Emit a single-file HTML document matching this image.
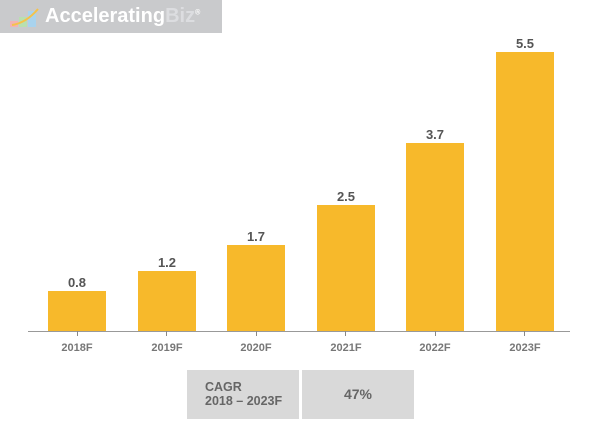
<!DOCTYPE html>
<html><head><style>
body{margin:0;width:600px;height:430px;background:#fff;position:relative;overflow:hidden;font-family:"Liberation Sans",Arial,sans-serif}
.bar{position:absolute;width:58px;background:#f7b92b}
.v{position:absolute;width:80px;text-align:center;font-weight:bold;font-size:13px;color:#555}
.x{position:absolute;width:80px;text-align:center;font-weight:bold;font-size:11px;color:#777;top:342px}
.tick{position:absolute;top:331px;width:1px;height:5px;background:#888}
.box{position:absolute;top:370px;height:49px;width:112px;background:#d9d9d9;color:#666;font-weight:bold}
</style></head><body>
<div style="position:absolute;left:0;top:0;width:222px;height:33px;background:#c9cacc"></div>
<svg style="position:absolute;left:8px;top:5px" width="36" height="24">
<rect x="2" y="16" width="8" height="6" fill="#f2b3b3"/><rect x="11" y="12" width="8" height="10" fill="#b8e0b0"/><rect x="20" y="6" width="8" height="16" fill="#a9d3ee"/>
<path d="M4 20 Q18 18 30 4" stroke="#f5c24a" stroke-width="2" fill="none"/></svg>
<div style="position:absolute;left:45px;top:5px;font-size:20px;font-weight:bold;color:#fff;white-space:nowrap">Accelerating<span style="color:#dcdde0">Biz</span><sup style="font-size:7px">®</sup></div>
<div style="position:absolute;left:28px;top:331px;width:542px;height:1px;background:#999"></div>

<div class="bar" style="left:48px;top:291px;height:40px"></div>
<div class="bar" style="left:138px;top:271px;height:60px"></div>
<div class="bar" style="left:227px;top:245px;height:86px"></div>
<div class="bar" style="left:317px;top:205px;height:126px"></div>
<div class="bar" style="left:406px;top:143px;height:188px"></div>
<div class="bar" style="left:496px;top:52px;height:279px"></div>

<div class="v" style="left:37px;top:275px">0.8</div>
<div class="v" style="left:127px;top:255px">1.2</div>
<div class="v" style="left:216px;top:229px">1.7</div>
<div class="v" style="left:306px;top:189px">2.5</div>
<div class="v" style="left:395px;top:127px">3.7</div>
<div class="v" style="left:485px;top:36px">5.5</div>

<div class="tick" style="left:77px"></div><div class="tick" style="left:166px"></div><div class="tick" style="left:256px"></div><div class="tick" style="left:345px"></div><div class="tick" style="left:435px"></div><div class="tick" style="left:524px"></div>
<div class="x" style="left:37px">2018F</div>
<div class="x" style="left:127px">2019F</div>
<div class="x" style="left:216px">2020F</div>
<div class="x" style="left:306px">2021F</div>
<div class="x" style="left:395px">2022F</div>
<div class="x" style="left:485px">2023F</div>

<div class="box" style="left:187px;font-size:12.5px;line-height:14px"><div style="padding:10px 0 0 18px">CAGR<br>2018 – 2023F</div></div>
<div class="box" style="left:302px;font-size:14px;line-height:49px;text-align:center">47%</div>
</body></html>
